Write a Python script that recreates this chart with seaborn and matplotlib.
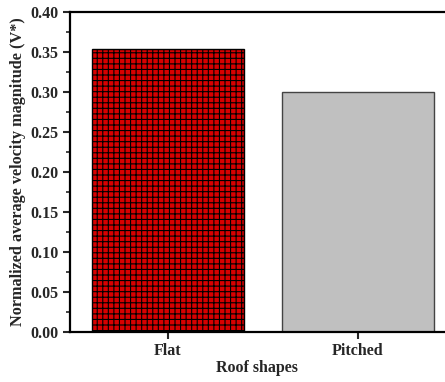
import matplotlib
matplotlib.use("Agg")
import matplotlib.pyplot as plt
import seaborn as sns
import pandas as pd
from matplotlib.ticker import MultipleLocator

# Data
roof_shapes = ["Flat", "Pitched"]
velocity = [0.354, 0.300]
bar_colors = ["#d80000", "#c0c0c0"]

df = pd.DataFrame({"Roof shapes": roof_shapes, "V": velocity})

sns.set_style("ticks")
plt.rcParams["font.family"] = ["Liberation Serif", "DejaVu Serif"]
plt.rcParams["font.weight"] = "bold"
plt.rcParams["hatch.linewidth"] = 0.8
plt.rcParams["hatch.color"] = "#4a0000"

fig = plt.figure(figsize=(4.45, 3.82), dpi=100)
ax = fig.add_axes([0.157, 0.131, 0.843, 0.838])

sns.barplot(data=df, x="Roof shapes", y="V", hue="Roof shapes",
            palette=bar_colors, width=0.8, legend=False, ax=ax, saturation=1)

for i, patch in enumerate(ax.patches):
    patch.set_edgecolor("black" if i == 0 else "#444444")
    patch.set_linewidth(1.0)
    if i == 0:
        patch.set_hatch("+++")

ax.set_xlim(-0.516, 1.458)
ax.set_ylim(0, 0.40)
ax.yaxis.set_major_locator(MultipleLocator(0.05))
ax.yaxis.set_minor_locator(MultipleLocator(0.025))
ax.yaxis.set_major_formatter(matplotlib.ticker.FormatStrFormatter("%.2f"))

ax.spines["right"].set_visible(False)
for s in ["left", "top", "bottom"]:
    ax.spines[s].set_linewidth(1.6)
    ax.spines[s].set_color("black")

ax.tick_params(axis="both", which="major", direction="out", length=5, width=1.5,
               labelsize=11.5, pad=3)
ax.tick_params(axis="y", which="minor", direction="out", length=3, width=1.2)
for lbl in ax.get_xticklabels() + ax.get_yticklabels():
    lbl.set_fontweight("bold")

ax.set_xlabel("Roof shapes", fontsize=11.5, fontweight="bold", labelpad=1)
ax.set_ylabel("Normalized average velocity magnitude (V*)", fontsize=11.7,
              fontweight="bold", labelpad=3)

fig.savefig("out.png", dpi=100)
